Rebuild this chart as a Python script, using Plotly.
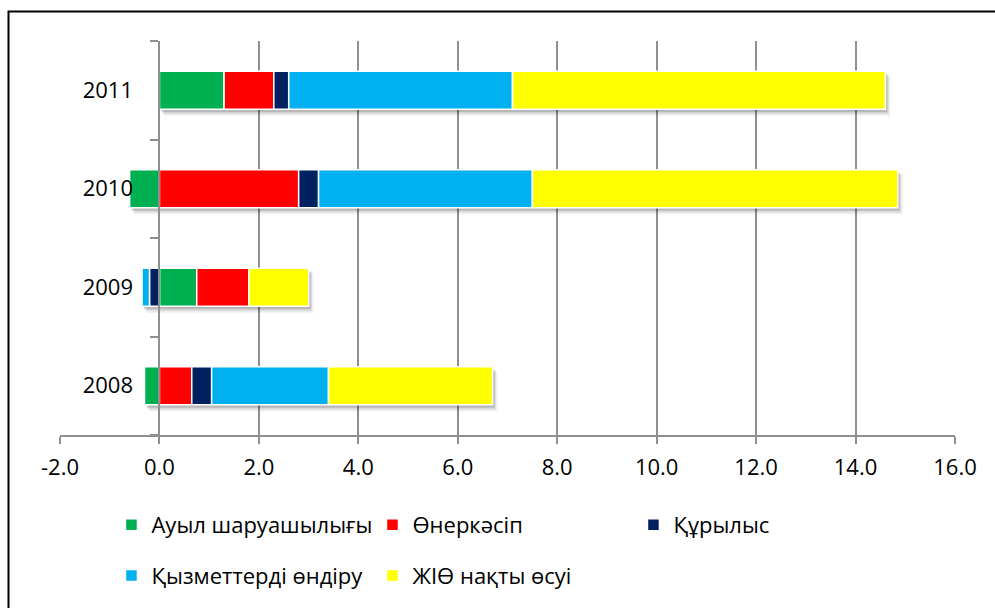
import plotly.graph_objects as go

# Contributions to real GDP growth by sector, percentage points
years = ["2008", "2009", "2010", "2011"]
agriculture = [-0.3, 0.75, -0.6, 1.3]
industry = [0.65, 1.05, 2.8, 1.0]
construction = [0.4, -0.2, 0.4, 0.3]
services = [2.35, -0.15, 4.3, 4.5]
gdp_growth = [3.3, 1.2, 7.35, 7.5]

series_names = [
    "Ауыл шаруашылығы",
    "Өнеркәсіп",
    "Құрылыс",
    "Қызметтерді өндіру",
    "ЖІӨ нақты өсуі",
]
series_values = [agriculture, industry, construction, services, gdp_growth]
series_colors = ["#00B050", "#FF0000", "#002060", "#00B0F0", "#FFFF00"]
series_legend = ["legend", "legend", "legend", "legend2", "legend2"]

tick_values = [-2, 0, 2, 4, 6, 8, 10, 12, 14, 16]
tick_labels = ["-2.0", "0.0", "2.0", "4.0", "6.0", "8.0", "10.0", "12.0", "14.0", "16.0"]

FONT = "Open Sans"
FONT_SIZE = 22
AXIS_GREY = "#8f8f8f"
BAR_WIDTH = 0.385

fig = go.Figure()

# Soft drop shadow under each stacked bar, built from the stack extents
neg_ext = [sum(v[i] for v in series_values if v[i] < 0) for i in range(len(years))]
pos_ext = [sum(v[i] for v in series_values if v[i] > 0) for i in range(len(years))]
for dx, dy, grow, alpha in [(0.04, 0.03, 0.0, 0.16), (0.07, 0.045, 0.01, 0.09), (0.1, 0.06, 0.02, 0.05)]:
    fig.add_trace(go.Bar(
        y=years,
        x=[p - n for p, n in zip(pos_ext, neg_ext)],
        base=[n + dx for n in neg_ext],
        orientation="h",
        width=BAR_WIDTH + grow,
        offset=-BAR_WIDTH / 2 - dy - grow / 2,
        marker=dict(color=f"rgba(0,0,0,{alpha})", line=dict(width=0)),
        hoverinfo="skip",
        showlegend=False,
        xaxis="x",
        yaxis="y",
    ))

# Stacked sector bars on an overlaid x axis so they stack separately from the shadow
for name, vals, color, leg in zip(series_names, series_values, series_colors, series_legend):
    fig.add_trace(go.Bar(
        y=years,
        x=vals,
        name=name,
        orientation="h",
        marker=dict(color=color, line=dict(color="white", width=1.5)),
        xaxis="x2",
        yaxis="y",
        legend=leg,
    ))

legend_common = dict(
    orientation="h",
    x=0.0575,
    xanchor="left",
    yanchor="middle",
    entrywidth=216,
    font=dict(family=FONT, size=FONT_SIZE, color="black"),
    traceorder="normal",
    bgcolor="rgba(0,0,0,0)",
)

fig.update_layout(
    width=995,
    height=608,
    margin=dict(l=60, r=40, t=41, b=171),
    paper_bgcolor="white",
    plot_bgcolor="white",
    barmode="relative",
    bargap=1 - BAR_WIDTH,
    font=dict(family=FONT, size=FONT_SIZE, color="black"),
    xaxis=dict(
        range=[-2, 16],
        tickvals=tick_values,
        ticktext=tick_labels,
        showgrid=True,
        gridcolor=AXIS_GREY,
        gridwidth=2,
        zeroline=False,
        showline=True,
        linecolor=AXIS_GREY,
        linewidth=2,
        ticks="outside",
        ticklen=7,
        tickwidth=2,
        tickcolor=AXIS_GREY,
        ticklabelstandoff=5,
        tickfont=dict(family=FONT, size=FONT_SIZE, color="black"),
        fixedrange=True,
    ),
    xaxis2=dict(
        range=[-2, 16],
        overlaying="x",
        visible=False,
        fixedrange=True,
    ),
    yaxis=dict(
        type="category",
        categoryorder="array",
        categoryarray=years,
        range=[-0.5, 3.5],
        anchor="free",
        position=2 / 18,
        showgrid=False,
        zeroline=False,
        showline=True,
        linecolor=AXIS_GREY,
        linewidth=2,
        ticks="outside",
        tickson="boundaries",
        ticklen=8,
        tickwidth=2,
        tickcolor=AXIS_GREY,
        ticklabelstandoff=21,
        tickfont=dict(family=FONT, size=FONT_SIZE, color="black"),
        fixedrange=True,
    ),
    legend=dict(legend_common, y=-0.228),
    legend2=dict(legend_common, y=-0.357),
    shapes=[
        dict(
            type="rect",
            xref="paper",
            yref="paper",
            x0=(8.5 - 60) / 895,
            x1=(1010 - 60) / 895,
            y0=-0.6,
            y1=(437 - 12.5) / 395,
            line=dict(color="black", width=2),
            fillcolor="rgba(0,0,0,0)",
            layer="above",
        )
    ],
)

fig.write_html("out.html")
